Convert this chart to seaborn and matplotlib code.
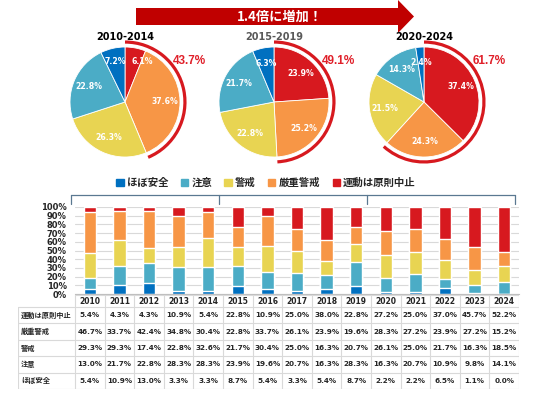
import numpy as np
import matplotlib
matplotlib.use('Agg')
import matplotlib.pyplot as plt
import matplotlib.transforms as mtransforms
from matplotlib.patches import Arc, Patch, Polygon
import seaborn as sns

sns.set_style('white')
plt.rcParams['font.family'] = ['DejaVu Sans', 'Noto Sans CJK JP']

# ---- data ----
years = [str(y) for y in range(2010, 2025)]
levels = ['ほぼ安全', '注意', '警戒', '厳重警戒', '運動は原則中止']
colors = ['#0070C0', '#4BACC6', '#E8D452', '#F79646', '#D7191F']

stop = [5.4, 4.3, 4.3, 10.9, 5.4, 22.8, 10.9, 25.0, 38.0, 22.8, 27.2, 25.0, 37.0, 45.7, 52.2]
severe = [46.7, 33.7, 42.4, 34.8, 30.4, 22.8, 33.7, 26.1, 23.9, 19.6, 28.3, 27.2, 23.9, 27.2, 15.2]
warning = [29.3, 29.3, 17.4, 22.8, 32.6, 21.7, 30.4, 25.0, 16.3, 20.7, 26.1, 25.0, 21.7, 16.3, 18.5]
caution = [13.0, 21.7, 22.8, 28.3, 28.3, 23.9, 19.6, 20.7, 16.3, 28.3, 16.3, 20.7, 10.9, 9.8, 14.1]
safe = [5.4, 10.9, 13.0, 3.3, 3.3, 8.7, 5.4, 3.3, 5.4, 8.7, 2.2, 2.2, 6.5, 1.1, 0.0]

periods = ['2010-2014', '2015-2019', '2020-2024']
period_colors = ['black', '#595959', 'black']
pie_stop = [6.1, 23.9, 37.4]
pie_severe = [37.6, 25.2, 24.3]
pie_warning = [26.3, 22.8, 21.5]
pie_caution = [22.8, 21.7, 14.3]
pie_safe = [7.2, 6.3, 2.4]

banner = '1.4倍に増加！'

# ---- layout helpers (pixels) ----
W, H = 536, 394
fig = plt.figure(figsize=(W / 100, H / 100), dpi=100)


def box(x0, y0, x1, y1):
    return [x0 / W, 1 - y1 / H, (x1 - x0) / W, (y1 - y0) / H]


# background overlay for arrow
ax0 = fig.add_axes([0, 0, 1, 1])
ax0.set_xlim(0, W)
ax0.set_ylim(H, 0)
ax0.axis('off')
ax0.add_patch(Polygon([(136, 8), (398, 8), (398, 0), (414, 16.5), (398, 33), (398, 25), (136, 25)],
                      closed=True, color='#C00000', lw=0))
ax0.text(280, 17, banner, color='white', fontsize=9.5, fontweight='bold',
         ha='center', va='center', family=['Noto Sans CJK JP', 'DejaVu Sans'])

# ---- pies ----
pie_cx = [125, 274, 424]
pie_cy = 102
R = 55
S = 1.4
for i, p in enumerate(periods):
    cx = pie_cx[i]
    ax = fig.add_axes(box(cx - S * R, pie_cy - S * R, cx + S * R, pie_cy + S * R))
    vals = [pie_stop[i], pie_severe[i], pie_warning[i], pie_caution[i], pie_safe[i]]
    total = sum(vals)
    wedges, texts, autotexts = ax.pie(
        vals, colors=colors[::-1], startangle=90, counterclock=False,
        autopct=lambda q, t=total: f'{q * t / 100:.1f}%', pctdistance=0.72,
        wedgeprops={'edgecolor': 'white', 'linewidth': 0.6},
        textprops={'color': 'white', 'fontsize': 5.6, 'fontweight': 'bold'})
    if i == 0:
        # two thin wedges at the top: spread their labels apart
        autotexts[0].set_position((0.31, 0.73))
        autotexts[4].set_position((-0.17, 0.73))
    top = pie_stop[i] + pie_severe[i]
    ax.add_patch(Arc((0, 0), 2.18, 2.18, theta1=90 - top * 3.6, theta2=90,
                     color='#D7191F', lw=2.3))
    ax.text(1.18, 0.75, f'{top:.1f}%', color='#E0202A', fontsize=8.5, fontweight='bold',
            ha='center', va='center', family=['Liberation Sans'])
    ax.text(0, 1.18, p, color=period_colors[i], fontsize=7, fontweight='bold',
            ha='center', va='center')
    ax.set_xlim(-S, S)
    ax.set_ylim(-S, S)
    ax.set_aspect('equal')
    ax.axis('off')

# ---- stacked bars ----
axb = fig.add_axes(box(75, 207, 519, 294))
cum = np.cumsum([safe, caution, warning, severe, stop], axis=0) / 100
for k in range(4, -1, -1):
    sns.barplot(x=years, y=cum[k], color=colors[k], width=0.42, saturation=1,
                errorbar=None, ax=axb, zorder=2)
axb.set_xlim(-0.5, 14.5)
axb.set_ylim(0, 1)
axb.set_yticks(np.arange(0, 1.01, 0.1))
axb.set_yticklabels([f'{v}%' for v in range(0, 101, 10)], fontsize=6, fontweight='bold')
axb.tick_params(axis='y', length=0, pad=6)
axb.set_xticks([])
axb.set_xlabel('')
axb.set_ylabel('')
axb.set_axisbelow(True)
axb.grid(axis='y', color='#d9d9d9', lw=0.8)
for s in ['top', 'right', 'left']:
    axb.spines[s].set_visible(False)
axb.spines['bottom'].set_color('#bfbfbf')

# group bracket above bars
trans = mtransforms.blended_transform_factory(axb.transData, axb.transAxes)
edges = [g * 5 - 0.5 - 0.13 for g in range(4)]
axb.plot([edges[0], edges[-1]], [1.138, 1.138], color='#5a7891', lw=0.9,
         transform=trans, clip_on=False)
for e in edges:
    axb.plot([e, e], [1.138, 1.035], color='#5a7891', lw=0.9, transform=trans, clip_on=False)

# legend
handles = [Patch(color=c, label=l) for c, l in zip(colors, levels)]
fig.legend(handles=handles, loc='center', bbox_to_anchor=(266 / W, 1 - 183 / H), ncol=5,
           frameon=False, prop={'weight': 'bold', 'size': 7.5}, handlelength=0.7,
           handleheight=0.7, handletextpad=0.3, columnspacing=1.2)

# ---- table ----
col_px = (519 - 75) / 15
x_left = -0.5 - (75 - 18) / col_px
axt = fig.add_axes(box(18, 295, 519, 389))
axt.set_xlim(x_left, 14.5)
axt.set_ylim(389, 295)
axt.axis('off')
row_y = [295, 307, 323.4, 339.8, 356.2, 372.6, 389]
grid_c = '#d9d9d9'
axt.plot([-0.5, 14.5], [row_y[0], row_y[0]], color=grid_c, lw=0.8)
for y in row_y[1:]:
    axt.plot([x_left, 14.5], [y, y], color=grid_c, lw=0.8)
for k in range(16):
    axt.plot([k - 0.5, k - 0.5], [row_y[0], row_y[-1]], color=grid_c, lw=0.8)
axt.plot([x_left, x_left], [row_y[1], row_y[-1]], color=grid_c, lw=0.8)

for j, yr in enumerate(years):
    axt.text(j, (row_y[0] + row_y[1]) / 2, yr, ha='center', va='center',
             fontsize=5.5, fontweight='bold', color='#262626')

rows = [stop, severe, warning, caution, safe]
row_names = levels[::-1]
for r, (name, vals) in enumerate(zip(row_names, rows)):
    yc = (row_y[r + 1] + row_y[r + 2]) / 2
    axt.text(x_left + 0.1, yc, name, ha='left', va='center', fontsize=5.2,
             fontweight='bold', color='#262626', family=['Noto Sans CJK JP', 'DejaVu Sans'])
    for j, v in enumerate(vals):
        axt.text(j, yc, f'{v:.1f}%', ha='center', va='center', fontsize=5.2,
                 fontweight='bold', color='#262626')

fig.savefig('out.png', dpi=100)
